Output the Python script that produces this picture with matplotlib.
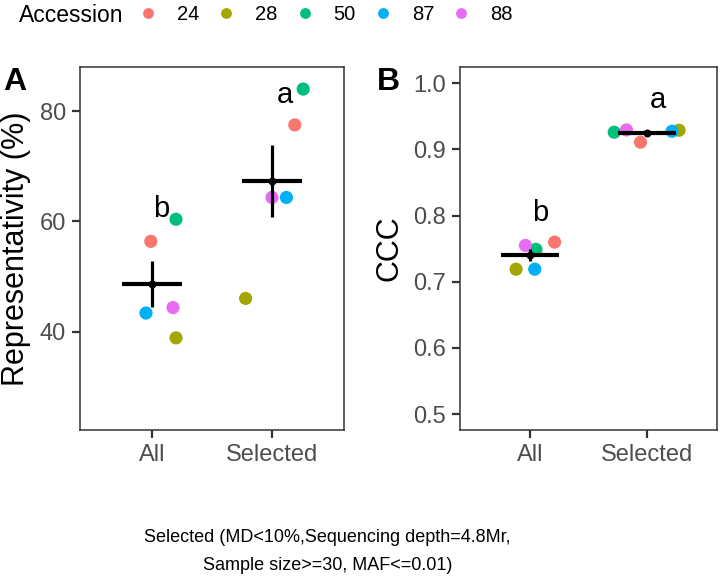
import numpy as np
import matplotlib
matplotlib.use("Agg")
import matplotlib.pyplot as plt
from matplotlib.lines import Line2D

plt.rcParams["font.family"] = ["Liberation Sans", "DejaVu Sans"]

# data
accessions = ["24", "28", "50", "87", "88"]
colors = ["#F8766D", "#A3A500", "#00BF7D", "#00B0F6", "#E76BF3"]
groups = ["All", "Selected"]

# representativity (%) per accession, per group
rep_all = [56.4, 38.9, 60.4, 43.4, 44.4]
rep_sel = [77.5, 46.05, 84.0, 64.35, 64.35]
# jittered x positions (1 = All, 2 = Selected)
rep_x_all = [0.99, 1.20, 1.20, 0.95, 1.175]
rep_x_sel = [2.19, 1.78, 2.26, 2.12, 2.00]

# CCC per accession, per group
ccc_all = [0.760, 0.719, 0.749, 0.719, 0.755]
ccc_sel = [0.911, 0.929, 0.926, 0.9275, 0.9295]
ccc_x_all = [1.21, 0.88, 1.05, 1.04, 0.96]
ccc_x_sel = [1.945, 2.275, 1.72, 2.215, 1.825]

letters = ["b", "a"]
rep_letter_y = [62.2, 83.0]
ccc_letter_y = [0.804, 0.975]

W, H = 720, 584
fig = plt.figure(figsize=(W / 100, H / 100), dpi=100)
axA = fig.add_axes([80 / W, 1 - 430 / H, 264 / W, 363 / H])
axB = fig.add_axes([460 / W, 1 - 430 / H, 257 / W, 363 / H])

edge = "#333333"


def panel(ax, xs, ys, ylim, ylabel, letter_y, letter_x):
    for x, y in zip(xs, ys):
        ax.scatter(x, y, c=colors, s=90, edgecolors="none", zorder=2)
    for i, y in enumerate(ys):
        y = np.array(y)
        m = y.mean()
        se = y.std(ddof=1) / np.sqrt(len(y))
        ax.plot([i + 1 - 0.25, i + 1 + 0.25], [m, m], color="black", lw=3, zorder=3,
                solid_capstyle="butt")
        ax.plot([i + 1, i + 1], [m - se, m + se], color="black", lw=2.3, zorder=3,
                solid_capstyle="butt")
        ax.scatter(i + 1, m, color="black", s=22, zorder=4)
        ax.text(letter_x[i], letter_y[i], letters[i], fontsize=21, ha="center",
                va="center", zorder=5)
    ax.set_xlim(0.4, 2.6)
    ax.set_ylim(*ylim)
    ax.set_xticks([1, 2])
    ax.set_xticklabels(groups)
    ax.set_ylabel(ylabel, fontsize=22, labelpad=6)
    ax.tick_params(axis="both", colors=edge, labelcolor="#4D4D4D", labelsize=17,
                   length=6, width=1.6, pad=4)
    for s in ax.spines.values():
        s.set_color(edge)
        s.set_linewidth(1.1)


panel(axA, [rep_x_all, rep_x_sel], [rep_all, rep_sel], (22.2, 88.0),
      "Representativity (%)", rep_letter_y, [1.08, 2.11])
axA.set_yticks([40, 60, 80])
panel(axB, [ccc_x_all, ccc_x_sel], [ccc_all, ccc_sel], (0.476, 1.0246),
      "CCC", ccc_letter_y, [1.086, 2.09])
axB.set_yticks([0.5, 0.6, 0.7, 0.8, 0.9, 1.0])
axB.set_yticklabels(["0.5", "0.6", "0.7", "0.8", "0.9", "1.0"])

fig.text(15 / W, 1 - 82 / H, "A", fontsize=23, fontweight="bold", ha="center", va="center")
fig.text(388 / W, 1 - 82 / H, "B", fontsize=23, fontweight="bold", ha="center", va="center")

# legend
fig.text(19 / W, 1 - 15 / H, "Accession", fontsize=16.5, ha="left", va="center")
handles = [Line2D([], [], marker="o", ls="none", color=c, markersize=7.8, markeredgewidth=0)
           for c in colors]
fig.legend(handles, accessions, ncol=5, loc="center left",
           bbox_to_anchor=(138 / W, 1 - 15 / H), frameon=False, fontsize=14.5,
           handlelength=1.0, handletextpad=0.93, columnspacing=0.85, borderpad=0,
           borderaxespad=0)

fig.text(327 / W, 1 - 538 / H, "Selected (MD<10%,Sequencing depth=4.8Mr,", fontsize=13,
         ha="center", va="center")
fig.text(328 / W, 1 - 566 / H, "Sample size>=30, MAF<=0.01)", fontsize=13,
         ha="center", va="center")

fig.savefig("out.png", dpi=100)
